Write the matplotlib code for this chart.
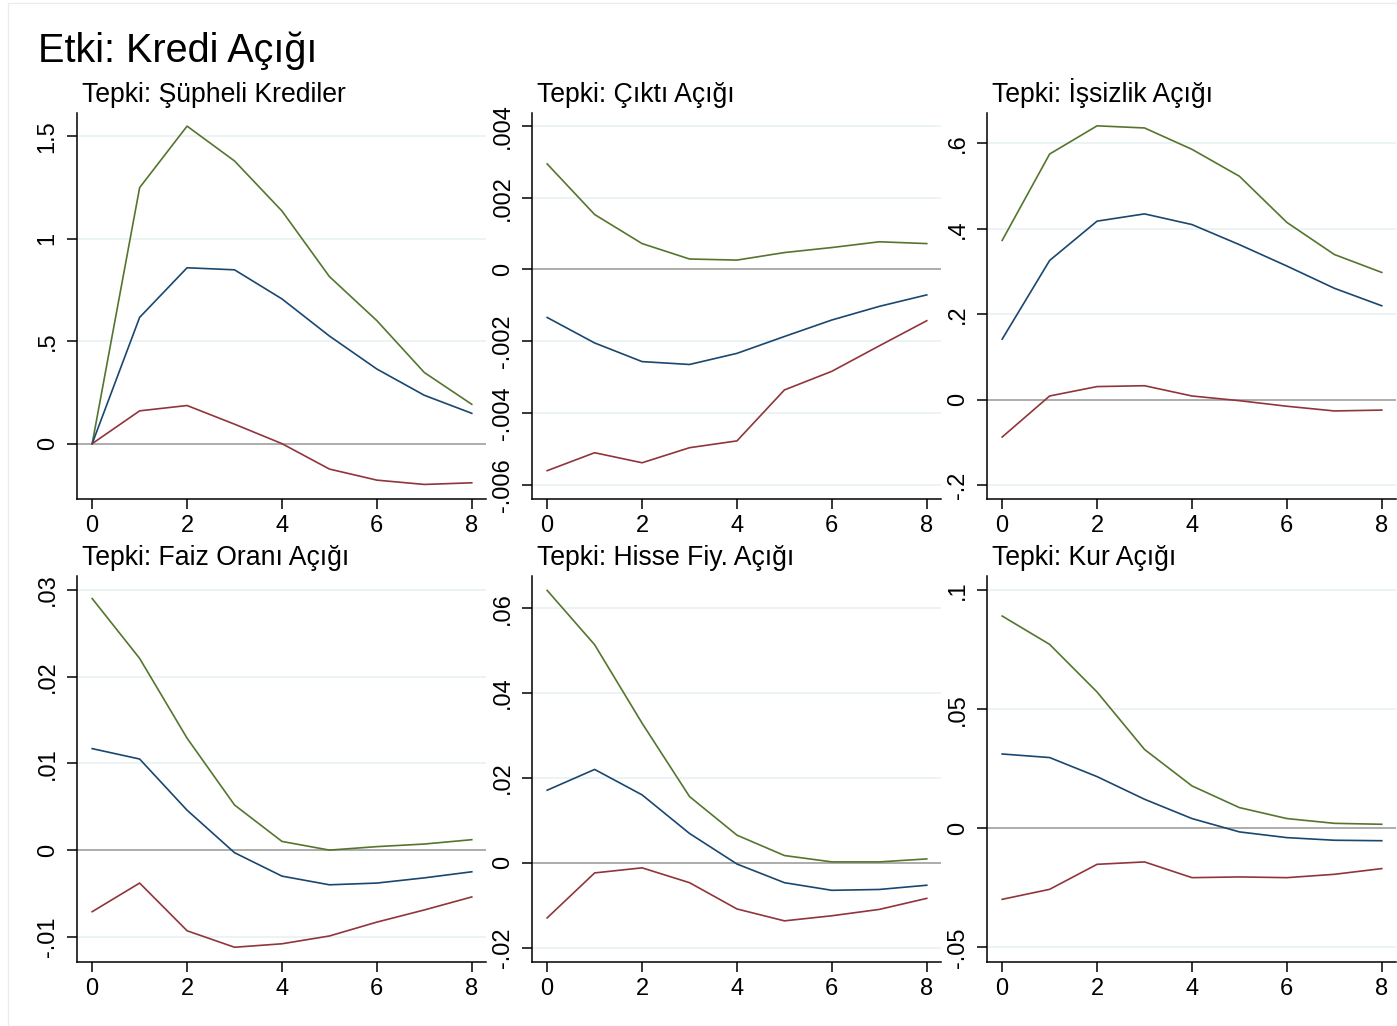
import numpy as np
import matplotlib
matplotlib.use("Agg")
import matplotlib.pyplot as plt
from matplotlib.patches import Rectangle

plt.rcParams['font.family'] = ['Liberation Sans', 'DejaVu Sans']

title = "Etki: Kredi Açığı"
horizon = [0, 1, 2, 3, 4, 5, 6, 7, 8]

panel_titles = [
    "Tepki: Şüpheli Krediler",
    "Tepki: Çıktı Açığı",
    "Tepki: İşsizlik Açığı",
    "Tepki: Faiz Oranı Açığı",
    "Tepki: Hisse Fiy. Açığı",
    "Tepki: Kur Açığı",
]

# upper band (green), irf (blue), lower band (red)
upper = [
    [0.0, 1.249, 1.549, 1.379, 1.135, 0.815, 0.600, 0.347, 0.192],
    [0.00294, 0.00153, 0.00072, 0.00029, 0.00026, 0.00047, 0.00061, 0.00077, 0.00072],
    [0.373, 0.575, 0.641, 0.636, 0.586, 0.523, 0.415, 0.340, 0.298],
    [0.0290, 0.0221, 0.0129, 0.0052, 0.0010, 0.0000, 0.0004, 0.0007, 0.0012],
    [0.0642, 0.0514, 0.0329, 0.0156, 0.0065, 0.0017, 0.0002, 0.0002, 0.0009],
    [0.0891, 0.0772, 0.0572, 0.0331, 0.0178, 0.0087, 0.0041, 0.0021, 0.0017],
]
irf = [
    [0.0, 0.616, 0.858, 0.848, 0.706, 0.525, 0.364, 0.236, 0.148],
    [-0.00134, -0.00205, -0.00257, -0.00265, -0.00234, -0.00187, -0.00141, -0.00103, -0.00071],
    [0.142, 0.326, 0.418, 0.435, 0.410, 0.363, 0.313, 0.261, 0.220],
    [0.0117, 0.0105, 0.0046, -0.0003, -0.0030, -0.0040, -0.0038, -0.0032, -0.0025],
    [0.0171, 0.0220, 0.0160, 0.0069, -0.0003, -0.0047, -0.0065, -0.0063, -0.0053],
    [0.0312, 0.0297, 0.0217, 0.0122, 0.0041, -0.0015, -0.0039, -0.0050, -0.0052],
]
lower = [
    [0.0, 0.160, 0.186, 0.095, 0.0, -0.124, -0.178, -0.199, -0.191],
    [-0.00561, -0.00511, -0.00539, -0.00497, -0.00478, -0.00336, -0.00284, -0.00213, -0.00143],
    [-0.087, 0.009, 0.031, 0.033, 0.009, -0.002, -0.015, -0.026, -0.024],
    [-0.0071, -0.0038, -0.0093, -0.0112, -0.0108, -0.0099, -0.0083, -0.0069, -0.0054],
    [-0.0130, -0.0024, -0.0012, -0.0047, -0.0109, -0.0137, -0.0125, -0.0110, -0.0084],
    [-0.0298, -0.0256, -0.0151, -0.0141, -0.0207, -0.0204, -0.0207, -0.0193, -0.0169],
]

yticks = [
    [0, 0.5, 1, 1.5],
    [-0.006, -0.004, -0.002, 0, 0.002, 0.004],
    [-0.2, 0, 0.2, 0.4, 0.6],
    [-0.01, 0, 0.01, 0.02, 0.03],
    [-0.02, 0, 0.02, 0.04, 0.06],
    [-0.05, 0, 0.05, 0.1],
]
ylims = [
    (-0.27, 1.613),
    (-0.0064, 0.00436),
    (-0.232, 0.671),
    (-0.0129, 0.0316),
    (-0.0234, 0.0676),
    (-0.0561, 0.1059),
]
xticks = [0, 2, 4, 6, 8]

green = "#55752F"
navy = "#1A476F"
maroon = "#90353B"


def stata_fmt(v):
    s = f"{v:g}"
    if s.startswith("0."):
        s = s[1:]
    elif s.startswith("-0."):
        s = "-" + s[2:]
    return s


W, H = 1397, 1026
fig = plt.figure(figsize=(W / 100, H / 100), dpi=100)

fig.patches.append(Rectangle((8 / W, 0), 1, 1 - 3 / H, transform=fig.transFigure,
                             fill=False, edgecolor="#E8EEF0", linewidth=1))

fig.text(38 / W, 1 - 62 / H, title, fontsize=28.5, va='baseline', ha='left')

lefts = [77, 532, 987]
tops = [113, 576]
aw, ah = 409, 386

for i in range(6):
    r, c = divmod(i, 3)
    left = lefts[c]
    top = tops[r]
    ax = fig.add_axes([left / W, 1 - (top + ah) / H, aw / W, ah / H])
    ax.set_facecolor("white")
    for yv in yticks[i]:
        if yv != 0:
            ax.axhline(yv, color="#EAF2F3", lw=1.3, zorder=0)
    ax.axhline(0, color="#A6A6A6", lw=1.3, zorder=1)
    ax.plot(horizon, upper[i], color=green, lw=1.2, zorder=3)
    ax.plot(horizon, irf[i], color=navy, lw=1.2, zorder=3)
    ax.plot(horizon, lower[i], color=maroon, lw=1.2, zorder=3)
    ax.set_xlim(-0.32, 8.3)
    ax.set_ylim(*ylims[i])
    ax.set_xticks(xticks)
    ax.set_xticklabels([str(x) for x in xticks])
    ax.set_yticks(yticks[i])
    ax.set_yticklabels([stata_fmt(v) for v in yticks[i]], rotation=90, va='center')
    ax.tick_params(axis='both', length=7.2, width=1.1, labelsize=17, direction='out')
    ax.tick_params(axis='x', pad=4.5)
    ax.tick_params(axis='y', pad=6)
    for s in ["top", "right"]:
        ax.spines[s].set_visible(False)
    for s in ["left", "bottom"]:
        ax.spines[s].set_linewidth(1.1)
    fig.text((left + 5) / W, 1 - (top - 11) / H, panel_titles[i], fontsize=19.2,
             va='baseline', ha='left')

fig.savefig("out.png", dpi=100, facecolor="white")
